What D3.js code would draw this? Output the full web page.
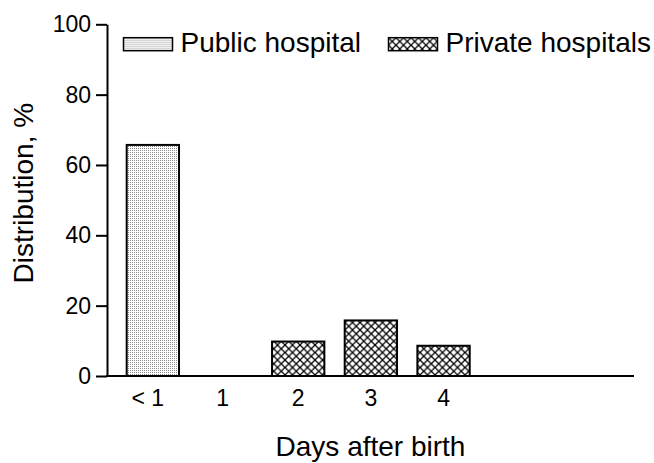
<!DOCTYPE html>
<html>
<head>
<meta charset="utf-8">
<script src="https://cdn.jsdelivr.net/npm/d3@7"></script>
<style>
html,body{margin:0;padding:0;background:#fff;}
svg{display:block;font-family:"Liberation Sans",Arial,sans-serif;}
</style>
</head>
<body>
<svg id="chart" width="654" height="463"></svg>
<script>
const categories = ["< 1", "1", "2", "3", "4"];
const publicValues = [65.7, 0, 0, 0, 0];
const privateValues = [0, 0, 9.8, 15.8, 8.6];
const yTicks = [0, 20, 40, 60, 80, 100];
const seriesNames = ["Public hospital", "Private hospitals"];
const yTitle = "Distribution, %";
const xTitle = "Days after birth";

const svg = d3.select("#chart");
const defs = svg.append("defs");

const dots = defs.append("pattern").attr("id", "dots")
  .attr("patternUnits", "userSpaceOnUse").attr("width", 2).attr("height", 2);
dots.append("rect").attr("width", 2).attr("height", 2).attr("fill", "#fff");
dots.append("rect").attr("width", 1).attr("height", 1).attr("fill", "#8c8c8c");

const P = 7.5;
const hatch = defs.append("pattern").attr("id", "hatch")
  .attr("patternUnits", "userSpaceOnUse").attr("width", P).attr("height", P);
hatch.append("rect").attr("width", P).attr("height", P).attr("fill", "#fff");
hatch.append("path")
  .attr("d", `M-1,-1L${P + 1},${P + 1}M-1,${P + 1}L${P + 1},-1`)
  .attr("stroke", "#000").attr("stroke-width", 1.3).attr("fill", "none");

const axisLeft = 107, axisRight = 634;
const y = d3.scaleLinear().domain([0, 100]).range([376, 24.3]);
const x = d3.scaleBand().domain(categories).range([126.7, 469.7]).paddingInner(0.28).paddingOuter(0);

// y axis
const yAxis = svg.append("g").attr("transform", `translate(${axisLeft},0)`)
  .call(d3.axisLeft(y).tickValues(yTicks).tickSize(11).tickSizeOuter(0).tickPadding(5));
yAxis.select(".domain").attr("stroke", "#000").attr("stroke-width", 2);
yAxis.selectAll(".tick line").attr("stroke", "#000").attr("stroke-width", 2);
yAxis.selectAll(".tick text").attr("font-size", 23).attr("fill", "#000")
  .attr("font-family", "Liberation Sans, Arial, sans-serif");

// bars
const fills = ["url(#dots)", "url(#hatch)"];
[publicValues, privateValues].forEach((vals, si) => {
  svg.append("g").selectAll("rect")
    .data(categories.map((c, i) => ({c, v: vals[i]})).filter(d => d.v > 0))
    .join("rect")
    .attr("x", d => x(d.c))
    .attr("y", d => y(d.v))
    .attr("width", x.bandwidth())
    .attr("height", d => y(0) - y(d.v))
    .attr("fill", fills[si])
    .attr("stroke", "#000")
    .attr("stroke-width", 2);
});

// x axis
const xAxis = svg.append("g").attr("transform", `translate(0,${y(0)})`)
  .call(d3.axisBottom(x).tickSize(0).tickPadding(14));
xAxis.select(".domain").remove();
xAxis.selectAll(".tick text").attr("font-size", 23).attr("fill", "#000")
  .attr("font-family", "Liberation Sans, Arial, sans-serif")
  .attr("dx", (d, i) => i === 0 ? -5 : (i === 1 ? -3 : 0));
svg.append("line").attr("x1", axisLeft - 1).attr("x2", axisRight)
  .attr("y1", y(0)).attr("y2", y(0)).attr("stroke", "#000").attr("stroke-width", 2);

// titles
svg.append("text").attr("transform", `translate(33,${(y(0) + y(100)) / 2 - 7}) rotate(-90)`)
  .attr("text-anchor", "middle").attr("font-size", 28).attr("fill", "#000").text(yTitle);
svg.append("text").attr("x", (axisLeft + axisRight) / 2).attr("y", 456)
  .attr("text-anchor", "middle").attr("font-size", 28).attr("fill", "#000").text(xTitle);

// legend
const legendX = [123.5, 388.5];
seriesNames.forEach((name, i) => {
  const g = svg.append("g").attr("transform", `translate(${legendX[i]},37.7)`);
  g.append("rect").attr("width", 49).attr("height", 13)
    .attr("fill", fills[i]).attr("stroke", "#000").attr("stroke-width", 1.5);
  g.append("text").attr("x", 57).attr("y", 14.5).attr("font-size", 28).attr("fill", "#000").text(name);
});
</script>
</body>
</html>
